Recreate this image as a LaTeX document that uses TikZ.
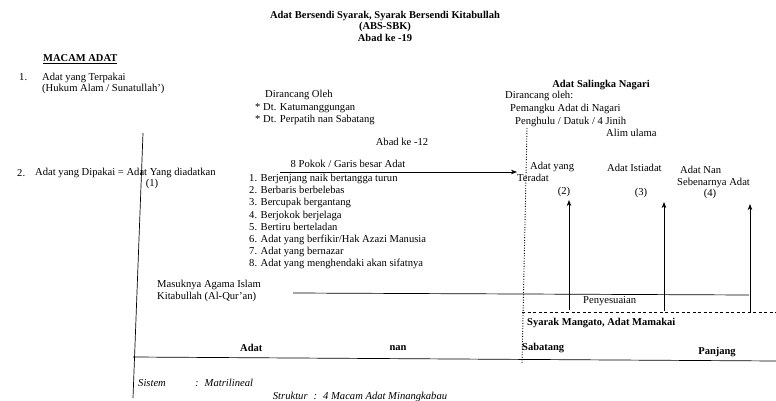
\documentclass[tikz,border=0pt]{standalone}
\usepackage{fontspec}
\setmainfont{Liberation Serif}
\usetikzlibrary{arrows.meta, positioning}

\begin{document}
\begin{tikzpicture}[x=1pt, y=-1pt, >=Stealth, font=\fontsize{10.6}{12.2}\selectfont,
    txt/.style={inner sep=0pt, anchor=west},
    blk/.style={inner sep=0pt, anchor=north west, align=left},
    hd/.style={inner sep=0pt, font=\fontsize{10.5}{11.5}\selectfont\bfseries},
    it/.style={inner sep=0pt, font=\fontsize{10.6}{12}\selectfont\itshape},
    ln/.style={line width=0.7pt}]
    \useasboundingbox (0,0) rectangle (776,401);
    % judul
    \node[hd, align=center] (judul) at (385,26)
        {Adat Bersendi Syarak, Syarak Bersendi Kitabullah\\ (ABS-SBK)\\ Abad ke -19};
    \node[hd, anchor=west] (macam) at (43,59) {\underline{MACAM ADAT}};
    \node[txt] (no1) at (19,77) {1.};
    \node[blk, font=\fontsize{10.6}{11.3}\selectfont] (terpakai) at (42,73)
        {Adat yang Terpakai\\ (Hukum Alam / Sunatullah')};
    % perancang
    \node[blk, font=\fontsize{10.6}{12.5}\selectfont] (rancang) at (255,90)
        {\hspace{10pt}Dirancang Oleh\\ * Dt. Katumanggungan\\ * Dt. Perpatih nan Sabatang};
    \node[inner sep=0pt] (abad12) at (402,142) {Abad ke -12};
    \node[hd] (salingka) at (601,85) {Adat Salingka Nagari};
    \node[txt] (oleh) at (505,96) {Dirancang oleh:};
    \node[txt] (pemangku) at (510,109) {Pemangku Adat di Nagari};
    \node[txt] (penghulu) at (515,122) {Penghulu / Datuk / 4 Jinih};
    \node[txt] (alim) at (606,133) {Alim ulama};
    % adat yang dipakai
    \node[txt] (no2) at (17,173) {2.};
    \node[txt] (dipakai) at (35,173) {Adat yang Dipakai = Adat Yang diadatkan};
    \node[inner sep=0pt] (p1) at (152,184) {(1)};
    \node[inner sep=0pt] (pokok) at (348,164) {8 Pokok / Garis besar Adat};
    \node[blk] (daftar) at (249,174)
        {1. Berjenjang naik bertangga turun\\ 2. Berbaris berbelebas\\ 3. Bercupak bergantang\\
         4. Berjokok berjelaga\\ 5. Bertiru berteladan\\ 6. Adat yang berfikir/Hak Azazi Manusia\\
         7. Adat yang bernazar\\ 8. Adat yang menghendaki akan sifatnya};
    \node[txt] (adatyang) at (530,167) {Adat yang};
    \node[txt] (teradat) at (517,178) {Teradat};
    \node[inner sep=0pt] (p2) at (564,192) {(2)};
    \node[txt] (istiadat) at (607,168) {Adat Istiadat};
    \node[inner sep=0pt] (p3) at (641,193) {(3)};
    \node[txt] (adatnan) at (680,170) {Adat Nan};
    \node[txt] (sebenarnya) at (677,183) {Sebenarnya Adat};
    \node[inner sep=0pt] (p4) at (710,194) {(4)};
    % agama islam
    \node[blk] (masuk) at (157,280) {Masuknya Agama Islam\\ Kitabullah (Al-Qur'an)};
    \node[txt] (sesuai) at (583,301) {Penyesuaian};
    \node[hd, anchor=west] (mangato) at (527,323) {Syarak Mangato, Adat Mamakai};
    \node[hd, anchor=west] (adat) at (240,348) {Adat};
    \node[hd] (nan) at (398,348) {nan};
    \node[hd, anchor=west] (sabatang) at (522,348) {Sabatang};
    \node[hd] (panjang) at (717,352) {Panjang};
    \node[it, anchor=west] (sistem) at (138,383) {Sistem};
    \node[it, anchor=west] (matri) at (195,383) {:\hspace{6pt}Matrilineal};
    \node[it] (struktur) at (360,397) {Struktur\hspace{6pt}:\hspace{6pt}4 Macam Adat Minangkabau};
    % garis
    \coordinate (kiriatas) at (143,133);
    \coordinate (kiribawah) at (133,398);
    \coordinate (dasarkiri) at (133,357);
    \coordinate (dasarkanan) at (776,361);
    \draw[ln] (kiriatas) -- (kiribawah);
    \draw[ln] (dasarkiri) -- (dasarkanan);
    \coordinate (pokokawal) at (280,172);
    \draw[ln, ->] (pokokawal) -- (teradat.west |- pokokawal);
    \coordinate (titikatas) at (527,128);
    \coordinate (titikbawah) at (522,364);
    \draw[line width=0.9pt, dash pattern=on 1pt off 1.6pt] (titikatas) -- (titikbawah);
    \coordinate (islamawal) at (293,293);
    \coordinate (islamakhir) at (749,295);
    \draw[ln] (islamawal) -- (islamakhir);
    \coordinate (putusawal) at (522,312);
    \coordinate (putusakhir) at (776,312);
    \draw[line width=0.8pt, dash pattern=on 3pt off 2.5pt] (putusawal) -- (putusakhir);
    \coordinate (b2) at (569,310);
    \coordinate (b3) at (664,311);
    \coordinate (b4) at (750,313);
    \draw[ln, ->] (b2) -- ([yshift=-3pt]b2 |- p2.south);
    \draw[ln, ->] (b3) -- ([yshift=-4pt]b3 |- p3.south);
    \draw[ln, ->] (b4) -- ([yshift=-5pt]b4 |- p4.south);
\end{tikzpicture}
\end{document}
